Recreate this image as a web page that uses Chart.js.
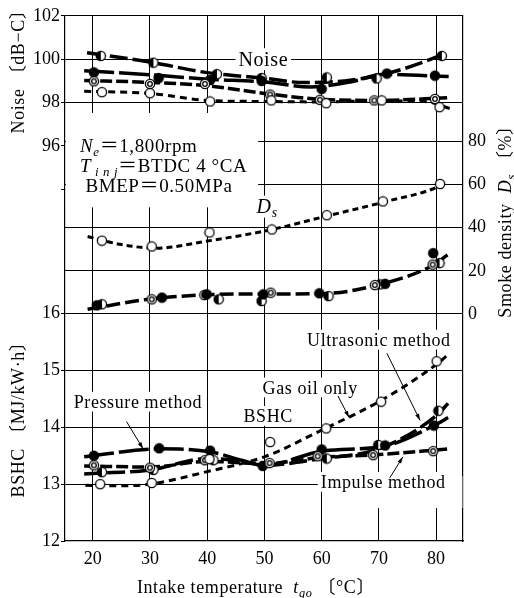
<!DOCTYPE html>
<html><head><meta charset="utf-8">
<script src="https://cdn.jsdelivr.net/npm/chart.js@4.4.0/dist/chart.umd.min.js"></script>
<style>html,body{margin:0;padding:0;background:#fff}canvas{display:block}</style>
</head><body>
<canvas id="c" width="514" height="598"></canvas>
<script>
// ---------- tick values ----------
const xTicks = [20, 30, 40, 50, 60, 70, 80];
const noiseTicks = [102, 100, 98, 96, 94];
const noiseTickLabels = ['102', '100', '98', '96', ''];
const noiseGridOn = [true, true, true, false, false];
const bshcTicks = [16, 15, 14, 13, 12];
const bshcGridOn = [true, true, true, true, false];
const smokeTicks = [0, 20, 40, 60, 80];

// ---------- Noise [dB-C] ----------
const ultraNoisePts = [[21.4,100.15],[30.6,99.84],[41.7,99.31],[49.5,99.13],[60.9,99.16],[69.6,99.11],[81,100.15]];
const pressNoisePts = [[20.2,99.39],[31.5,99.13],[40.5,99.04],[49.5,99.0],[60,98.63],[71.4,99.34],[79.8,99.24]];
const impNoisePts   = [[20.2,98.98],[30,98.86],[39.6,98.86],[51,98.37],[59.7,98.13],[69.2,98.1],[79.8,98.17]];
const gasNoisePts   = [[21.6,98.48],[30,98.43],[40.5,98.05],[51.2,98.1],[60.8,97.97],[70.5,98.1],[80.6,97.79]];
const ultraNoiseCurve = [[19,100.3],[30,99.87],[40,99.38],[50,99.12],[57,98.92],[64,99.0],[70,99.25],[76,99.7],[81.5,100.25]];
const pressNoiseCurve = [[18.5,99.47],[30,99.28],[40,99.08],[50,98.95],[58,98.72],[65,98.95],[71,99.3],[82.2,99.2]];
const impNoiseCurve   = [[18.5,99.02],[30,98.93],[40,98.78],[50,98.42],[60,98.15],[70,98.1],[82,98.22]];
const gasNoiseCurve   = [[18.5,98.52],[30,98.42],[40,98.1],[50,98.05],[60,98.03],[70,98.08],[78,98.05],[82.5,97.72]];

// ---------- Smoke density Ds [%] ----------
const gasSmokePts   = [[21.6,34.0],[30.3,31.3],[40.4,37.8],[51.3,39.2],[60.9,45.8],[70.7,52.2],[80.7,60.3]];
const pressSmokePts = [[20.7,4.0],[32.1,7.6],[39.9,9.1],[49.8,9.1],[59.6,9.6],[71.1,14.0],[79.5,28.2]];
const impSmokePts   = [[30.3,6.8],[39.5,8.8],[51.1,9.9],[69.3,13.4],[79.4,22.9]];
const ultraSmokePts = [[21.6,4.5],[42,6.8],[49.5,6.0],[61.2,8.3],[70.2,13.7],[80.6,23.6]];
const gasSmokeCurve = [[19.1,35.9],[25,32.2],[31,30.5],[40,33.8],[51,39],[61,45.5],[71,52],[80.7,59.5],[82,61.8]];
const mixSmokeCurve = [[19.1,2.2],[30,6.9],[40,8.9],[50,9.3],[60,9.4],[70,13.6],[79.4,22.5],[82,27.4]];

// ---------- BSHC [MJ/kW·h] ----------
const pressBPts = [[20.2,13.50],[31.6,13.63],[40.5,13.59],[49.7,13.32],[60,13.61],[71.1,13.68],[79.6,14.03]];
const impBPts   = [[20.2,13.33],[30,13.29],[39.6,13.42],[50.9,13.37],[59.3,13.49],[69,13.51],[79.5,13.58]];
const gasBPts   = [[21.3,13.0],[30.3,13.02],[40.4,13.44],[51,13.74],[60.8,13.98],[70.4,14.45],[80.1,15.16]];
const ultraBPts = [[21.6,13.21],[30.6,13.25],[41.1,13.42],[60.9,13.45],[69.9,13.69],[80.4,14.29]];
const gasBCurve   = [[18.7,12.98],[25,12.97],[30,13.0],[40,13.22],[50,13.48],[60,13.95],[70,14.45],[80,15.1],[82,15.27]];
const pressBCurve = [[18.5,13.48],[31.6,13.62],[40.5,13.57],[46,13.42],[50,13.33],[60,13.58],[71,13.67],[80,14.05],[82.1,14.17]];
const ultraBCurve = [[18.5,13.18],[30,13.25],[40,13.45],[46,13.4],[50,13.33],[60,13.45],[70,13.62],[80,14.2],[82.1,14.42]];
const impBCurve   = [[18.5,13.32],[30,13.3],[40,13.4],[50,13.36],[60,13.47],[70,13.52],[80,13.6],[82.3,13.62]];

// ---------- axis ranges ----------
const X_MIN = 15.15, X_MAX = 84.7;
const N_MIN = 77.79, N_MAX = 102;
const S_MIN = -105.3, S_MAX = 138.3;
const B_MIN = 12, B_MAX = 21.235;

const FONT = '"Liberation Serif","Noto Sans CJK JP",serif';
function font(sz, it) { return (it ? 'italic ' : '') + sz + 'px ' + FONT; }

// ---------- marker glyphs ----------
function marker(type) {
  const c = document.createElement('canvas'); c.width = c.height = 12;
  const g = c.getContext('2d'); const cx = 6, cy = 6, r = 4.6;
  g.lineWidth = 1.3; g.strokeStyle = '#000'; g.fillStyle = type === 'full' ? '#000' : '#fff';
  g.beginPath(); g.arc(cx, cy, r, 0, 2 * Math.PI); g.fill();
  if (type === 'half') { g.fillStyle = '#000'; g.beginPath(); g.moveTo(cx, cy - r); g.arc(cx, cy, r, -Math.PI / 2, Math.PI / 2, true); g.closePath(); g.fill(); }
  g.beginPath(); g.arc(cx, cy, r, 0, 2 * Math.PI); g.stroke();
  if (type === 'double') { g.beginPath(); g.arc(cx, cy, 2.3, 0, 2 * Math.PI); g.stroke(); }
  return c;
}
const M_OPEN = marker('open'), M_FULL = marker('full'), M_HALF = marker('half'), M_DBL = marker('double');

const toXY = a => a.map(([x, y]) => ({ x, y }));
function curve(d, ax, dash, w) {
  return { data: toXY(d), yAxisID: ax, showLine: true, borderColor: '#000', borderWidth: w || 3.5,
    borderDash: dash, borderCapStyle: 'butt', pointRadius: 0, cubicInterpolationMode: 'monotone', fill: false, order: 2 };
}
function pts(d, ax, st) {
  return { data: toXY(d), yAxisID: ax, showLine: false, pointStyle: st, pointRadius: 5, order: 0 };
}

const datasets = [
  curve(ultraNoiseCurve, 'yN', [18, 5]), curve(pressNoiseCurve, 'yN', [30, 5]),
  curve(impNoiseCurve, 'yN', [12, 4]), curve(gasNoiseCurve, 'yN', [7, 5], 3),
  curve(gasSmokeCurve, 'yS', [6, 4], 3), curve(mixSmokeCurve, 'yS', [14, 5]),
  curve(gasBCurve, 'yL', [7, 5], 3), curve(pressBCurve, 'yL', [30, 5]),
  curve(ultraBCurve, 'yL', [18, 5]), curve(impBCurve, 'yL', [12, 4]),
  pts(gasNoisePts, 'yN', M_OPEN), pts(impNoisePts, 'yN', M_DBL), pts(pressNoisePts, 'yN', M_FULL), pts(ultraNoisePts, 'yN', M_HALF),
  pts(gasSmokePts, 'yS', M_OPEN), pts(pressSmokePts, 'yS', M_FULL), pts(impSmokePts, 'yS', M_DBL), pts(ultraSmokePts, 'yS', M_HALF),
  pts(gasBPts, 'yL', M_OPEN), pts(impBPts, 'yL', M_DBL), pts(pressBPts, 'yL', M_FULL), pts(ultraBPts, 'yL', M_HALF)
];

const noiseToB = n => B_MIN + (n - N_MIN) / (N_MAX - N_MIN) * (B_MAX - B_MIN);

// ---------- annotations (data coordinates) ----------
const plotLabels = [
  { segs: [{ t: 'Noise' }], x: 49.8, y: 100, ax: 'yN', size: 20, align: 'center', mask: true },
  { segs: [{ t: 'N', it: 1 }, { t: 'e', it: 1, sub: 1 }, { t: '＝1,800rpm' }], x: 17.78, y: 96.0, ax: 'yN', size: 19, align: 'left' },
  { segs: [{ t: 'T', it: 1 }, { t: ' i n j', it: 1, sub: 1 }, { t: '＝BTDC 4 °CA' }], x: 17.78, y: 95.09, ax: 'yN', size: 19, align: 'left' },
  { segs: [{ t: ' BMEP＝0.50MPa' }], x: 17.78, y: 94.18, ax: 'yN', size: 19, align: 'left' },
  { segs: [{ t: 'D', it: 1 }, { t: 's', it: 1, sub: 1 }], x: 50.46, y: 49.8, ax: 'yS', size: 20, align: 'center', mask: true },
  { segs: [{ t: 'Ultrasonic method' }], x: 70.0, y: 15.54, ax: 'yL', size: 18, align: 'center', mask: true },
  { segs: [{ t: 'Gas oil only' }], x: 58.0, y: 14.70, ax: 'yL', size: 18, align: 'center', mask: true },
  { segs: [{ t: 'BSHC' }], x: 50.65, y: 14.20, ax: 'yL', size: 18, align: 'center', mask: true },
  { segs: [{ t: 'Pressure method' }], x: 27.9, y: 14.45, ax: 'yL', size: 18, align: 'center', mask: true },
  { segs: [{ t: 'Impulse method' }], x: 70.76, y: 13.04, ax: 'yL', size: 18, align: 'center', mask: true }
];
const maskBoxes = [
  { x1: 15.3, x2: 48.9, y1: 97.52, y2: 93.17, ax: 'yN' },
  { x1: 67.6, x2: 84.6, y1: 13.14, y2: 12.58, ax: 'yL' }
];
const leaders = [
  [25.9, 14.10, 28.8, 13.62], [62.85, 14.55, 64.8, 14.17],
  [71.4, 15.30, 77.2, 14.12], [71.9, 13.11, 74.2, 13.48]
];

function richWidth(ctx, segs, base) {
  let w = 0;
  for (const s of segs) { ctx.font = font(s.sub ? base * 0.68 : base, s.it); w += ctx.measureText(s.t).width; }
  return w;
}
function drawRich(ctx, segs, x, y, base, align) {
  const w = richWidth(ctx, segs, base);
  let cx = align === 'center' ? x - w / 2 : x;
  ctx.textAlign = 'left'; ctx.textBaseline = 'alphabetic'; ctx.fillStyle = '#000';
  const by = y + base * 0.34;
  for (const s of segs) {
    const sz = s.sub ? base * 0.68 : base;
    ctx.font = font(sz, s.it);
    ctx.fillText(s.t, cx, by + (s.sub ? base * 0.2 : 0));
    cx += ctx.measureText(s.t).width;
  }
  return w;
}

const annot = {
  id: 'annot',
  beforeDatasetsDraw(chart) {
    const ctx = chart.ctx, sc = chart.scales;
    ctx.save();
    ctx.fillStyle = '#fff';
    for (const m of maskBoxes) {
      const x1 = sc.x.getPixelForValue(m.x1), x2 = sc.x.getPixelForValue(m.x2);
      const y1 = sc[m.ax].getPixelForValue(m.y1), y2 = sc[m.ax].getPixelForValue(m.y2);
      ctx.fillRect(x1, y1, x2 - x1, y2 - y1);
    }
    try { ctx.letterSpacing = '0.6px'; } catch (e) {}
    for (const L of plotLabels) {
      const px = sc.x.getPixelForValue(L.x), py = sc[L.ax].getPixelForValue(L.y);
      if (L.mask) {
        const w = richWidth(ctx, L.segs, L.size);
        const lx = L.align === 'center' ? px - w / 2 : px;
        ctx.fillStyle = '#fff';
        ctx.fillRect(lx - 3, py - L.size * 0.55, w + 6, L.size * 1.1);
      }
      drawRich(ctx, L.segs, px, py, L.size, L.align);
    }
    ctx.restore();
  },
  afterDatasetsDraw(chart) {
    const ctx = chart.ctx, sc = chart.scales;
    ctx.save();
    ctx.strokeStyle = '#000'; ctx.fillStyle = '#000'; ctx.lineWidth = 1;
    for (const [a, b, c, d] of leaders) {
      const x1 = sc.x.getPixelForValue(a), y1 = sc.yL.getPixelForValue(b);
      const x2 = sc.x.getPixelForValue(c), y2 = sc.yL.getPixelForValue(d);
      ctx.beginPath(); ctx.moveTo(x1, y1); ctx.lineTo(x2, y2); ctx.stroke();
      const ang = Math.atan2(y2 - y1, x2 - x1);
      ctx.beginPath(); ctx.moveTo(x2, y2);
      ctx.lineTo(x2 - 7 * Math.cos(ang - 0.3), y2 - 7 * Math.sin(ang - 0.3));
      ctx.lineTo(x2 - 7 * Math.cos(ang + 0.3), y2 - 7 * Math.sin(ang + 0.3));
      ctx.closePath(); ctx.fill();
    }
    // axis titles
    try { ctx.letterSpacing = '0.6px'; } catch (e) {}
    drawRich(ctx, [{ t: 'Intake temperature  ' }, { t: 't', it: 1 }, { t: 'go', it: 1, sub: 1 }, { t: ' 〔°C〕' }], 256, 587, 18, 'center');
    const vt = (segs, x, y) => { ctx.save(); ctx.translate(x, y); ctx.rotate(-Math.PI / 2); drawRich(ctx, segs, 0, 0, 18, 'center'); ctx.restore(); };
    vt([{ t: 'Noise 〔dB−C〕' }], 18, 67);
    vt([{ t: 'BSHC 〔MJ/kW·h〕' }], 18, 415);
    vt([{ t: 'Smoke density  ' }, { t: 'D', it: 1 }, { t: 's', it: 1, sub: 1 }, { t: ' 〔%〕' }], 505, 217);
    ctx.restore();
  }
};

const gridCol = c => (c.tick && c.tick.g) ? '#000' : 'rgba(0,0,0,0)';

new Chart(document.getElementById('c'), {
  type: 'scatter',
  data: { datasets },
  options: {
    responsive: false, devicePixelRatio: 1, animation: false,
    layout: { padding: { top: 10, left: 0, right: 0, bottom: 0 } },
    plugins: { legend: { display: false }, tooltip: { enabled: false } },
    scales: {
      x: {
        type: 'linear', position: 'bottom', min: X_MIN, max: X_MAX,
        afterBuildTicks: s => { s.ticks = xTicks.map(v => ({ value: v })); },
        afterFit: s => { s.height = 57; },
        ticks: { font: { family: FONT, size: 18 }, color: '#000', padding: 7, autoSkip: false, maxRotation: 0 },
        grid: { color: '#000', lineWidth: 1, drawTicks: false },
        border: { display: true, color: '#000', width: 1.2 }
      },
      yL: {
        type: 'linear', position: 'left', min: B_MIN, max: B_MAX,
        afterBuildTicks: s => {
          const t = noiseTicks.map((n, i) => ({ value: noiseToB(n), lbl: noiseTickLabels[i], g: noiseGridOn[i] }));
          bshcTicks.forEach((b, i) => t.push({ value: b, lbl: String(b), g: bshcGridOn[i] }));
          s.ticks = t;
        },
        afterFit: s => { s.width = 65; },
        ticks: { font: { family: FONT, size: 18 }, color: '#000', padding: 1, autoSkip: false,
          callback: (v, i, t) => t[i].lbl },
        grid: { color: gridCol, tickColor: '#000', lineWidth: 1, drawTicks: true, tickLength: 4 },
        border: { display: true, color: '#000', width: 1.2 }
      },
      yN: { type: 'linear', position: 'left', min: N_MIN, max: N_MAX, display: false },
      yS: {
        type: 'linear', position: 'right', min: S_MIN, max: S_MAX,
        afterBuildTicks: s => { s.ticks = smokeTicks.map(v => ({ value: v, g: v !== 0 })); },
        afterFit: s => { s.width = 51; },
        ticks: { font: { family: FONT, size: 18 }, color: '#000', padding: 5, autoSkip: false },
        grid: { color: gridCol, lineWidth: 1, drawTicks: false },
        border: { display: true, color: '#000', width: 1.2 }
      }
    }
  },
  plugins: [annot]
});
</script>
</body></html>
